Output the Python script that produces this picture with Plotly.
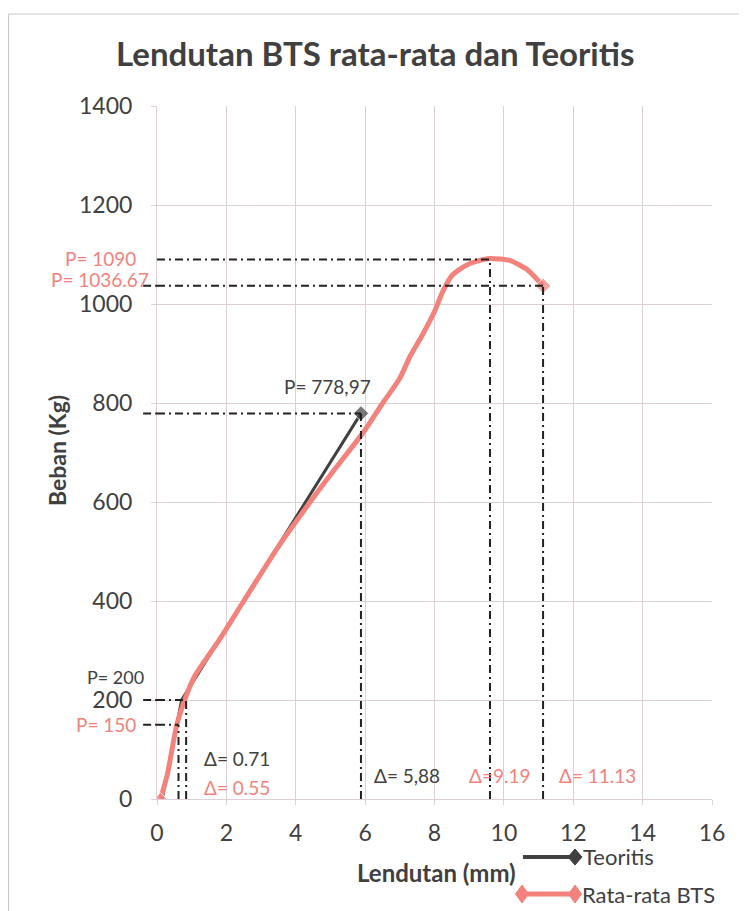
import plotly.graph_objects as go

# data
teori_x = [0.15, 0.71, 5.88]
teori_y = [0, 200, 778.97]

bts_x = [0.1, 0.3, 0.57, 0.85, 1.1, 1.8, 2.5, 3.5, 4.5, 5.1, 5.94, 6.49, 7.0,
         7.3, 7.63, 8.0, 8.23, 8.51, 8.91, 9.2, 9.6, 10.17, 10.66, 10.98, 11.13]
bts_y = [0, 50, 150, 210, 250, 322, 400, 510, 608, 664, 740, 798, 850,
         895, 935, 985, 1024, 1058, 1078, 1086, 1092, 1088, 1070, 1048, 1036.67]

# guide lines (x where the vertical drops, load level)
guide_x = [0.62, 0.84, 5.88, 9.6, 11.13]
guide_y = [150, 200, 778.97, 1090, 1036.67]

x_ticks = [0, 2, 4, 6, 8, 10, 12, 14, 16]
y_ticks = [0, 200, 400, 600, 800, 1000, 1200, 1400]

DARK = "#404040"
PINK = "#F4827C"
GRID = "#DCCFD6"
FONT = "Lato"
DASH = "8px,4px,2px,4px"

# the page has an 8px body margin, so the figure is a bit smaller
OFF = 8
W, H = 747 - OFF, 911 - OFF
# plot area in page pixels, used for placing the decorations
L, R, T, B = 157, 712, 106, 799


def px(x):
    return (x - L) / (R - L)


def py(y):
    return (B - y) / (B - T)


fig = go.Figure()

fig.add_trace(go.Scatter(
    x=teori_x, y=teori_y, mode="lines+markers", name="Teoritis",
    line=dict(color=DARK, width=3),
    marker=dict(symbol="diamond", color=DARK,
                size=[0] * (len(teori_x) - 1) + [12]),
))
fig.add_trace(go.Scatter(
    x=bts_x, y=bts_y, mode="lines+markers", name="Rata-rata BTS",
    line=dict(color=PINK, width=5, shape="spline", smoothing=0.6),
    marker=dict(symbol="diamond", color=PINK,
                size=[10] + [0] * (len(bts_x) - 2) + [12]),
))

# dash-dot guide lines
for gx, gy in zip(guide_x, guide_y):
    fig.add_shape(type="line", xref="x", yref="y", x0=0, x1=gx, y0=gy, y1=gy,
                  line=dict(color="#222222", width=2, dash=DASH))
    fig.add_shape(type="line", xref="x", yref="y", x0=gx, x1=gx, y0=0, y1=gy,
                  line=dict(color="#222222", width=2, dash=DASH))
    if gy != 1090:
        fig.add_shape(type="line", xref="paper", yref="y", x0=-0.025, x1=0,
                      y0=gy, y1=gy, line=dict(color="#222222", width=2, dash=DASH))


# value labels
def label(text, x, y, color, xanchor, xshift=0, yshift=0, xref="x", size=19):
    fig.add_annotation(text=text, x=x, y=y, xref=xref, yref="y",
                       xanchor=xanchor, yanchor="middle", showarrow=False,
                       xshift=xshift, yshift=yshift, borderpad=0,
                       font=dict(family=FONT, size=size, color=color))


label("P= 1090", 0, 1090, PINK, "right", -20, 1, xref="paper")
label("P= 1036.67", 0, 1036.67, PINK, "right", -7, 6, xref="paper")
label("P= 778,97", 5.88, 778.97, DARK, "center", -33, 27)
label("P= 200", 0, 200, DARK, "right", -12, 23, xref="paper", size=18)
label("P= 150", 0, 150, PINK, "right", -20, 0, xref="paper")
label("\u0394= 0.71", 0.71, 0, DARK, "left", 21, 41)
label("\u0394= 0.55", 0.55, 0, PINK, "left", 27, 12)
label("\u0394= 5,88", 5.88, 0, DARK, "left", 12, 24)
label("\u0394=9.19", 9.19, 0, PINK, "left", -8, 24)
label("\u0394= 11.13", 11.13, 0, PINK, "left", 15, 24)

# title and axis titles
fig.add_annotation(text="Lendutan BTS rata-rata dan Teoritis", xref="paper", yref="paper",
                   x=px(375), y=py(53), showarrow=False, xanchor="center", yanchor="middle",
                   font=dict(family=FONT, size=33, color=DARK, weight="bold"))
fig.add_annotation(text="Lendutan (mm)", xref="paper", yref="paper",
                   x=px(436), y=py(872), showarrow=False, xanchor="center", yanchor="middle",
                   font=dict(family=FONT, size=24, color=DARK, weight="bold"))
fig.add_annotation(text="Beban (Kg)", xref="paper", yref="paper", textangle=-90,
                   x=px(57), y=py(451), showarrow=False, xanchor="center", yanchor="middle",
                   font=dict(family=FONT, size=23, color=DARK, weight="bold"))


# hand-made legend: line with diamond ends
def diamond(cx, cy, color, rx=7, ry=8):
    fig.add_shape(type="path", xref="paper", yref="paper",
                  path=(f"M {px(cx - rx)} {py(cy)} L {px(cx)} {py(cy - ry)} "
                        f"L {px(cx + rx)} {py(cy)} L {px(cx)} {py(cy + ry)} Z"),
                  fillcolor=color, line=dict(color=color, width=1))


fig.add_shape(type="line", xref="paper", yref="paper", x0=px(523), x1=px(575),
              y0=py(857), y1=py(857), line=dict(color=DARK, width=4))
diamond(575, 857, DARK)
fig.add_annotation(text="Teoritis", xref="paper", yref="paper", x=px(581), y=py(857),
                   showarrow=False, xanchor="left", yanchor="middle",
                   font=dict(family=FONT, size=22, color=DARK))
fig.add_shape(type="line", xref="paper", yref="paper", x0=px(522), x1=px(575),
              y0=py(894), y1=py(894), line=dict(color=PINK, width=5))
diamond(522, 894, PINK, 6.5, 9)
diamond(575, 894, PINK, 6.5, 9)
fig.add_annotation(text="Rata-rata BTS", xref="paper", yref="paper", x=px(580), y=py(894),
                   showarrow=False, xanchor="left", yanchor="middle",
                   font=dict(family=FONT, size=22, color=DARK))

# outer chart border
fig.add_shape(type="rect", xref="paper", yref="paper", x0=px(8.5), x1=px(741),
              y0=py(925), y1=py(14), line=dict(color="#C8C8C8", width=1))

fig.update_layout(
    width=W, height=H,
    margin=dict(l=L - OFF, r=747 - R, t=T - OFF, b=911 - B),
    paper_bgcolor="white", plot_bgcolor="white",
    showlegend=False,
    font=dict(family=FONT, color=DARK),
    xaxis=dict(range=[0, 16], tickvals=x_ticks, showgrid=True, gridcolor=GRID,
               gridwidth=1, zeroline=False, showline=True, linecolor=GRID,
               ticks="outside", ticklen=5, tickcolor=GRID, ticklabelstandoff=8,
               tickfont=dict(family=FONT, size=23, color=DARK)),
    yaxis=dict(range=[0, 1400], tickvals=y_ticks, showgrid=True, gridcolor=GRID,
               gridwidth=1, zeroline=False, showline=True, linecolor=GRID,
               ticks="outside", ticklen=5, tickcolor=GRID, ticklabelstandoff=14,
               tickfont=dict(family=FONT, size=23, color=DARK)),
)

fig.write_html("out.html")
